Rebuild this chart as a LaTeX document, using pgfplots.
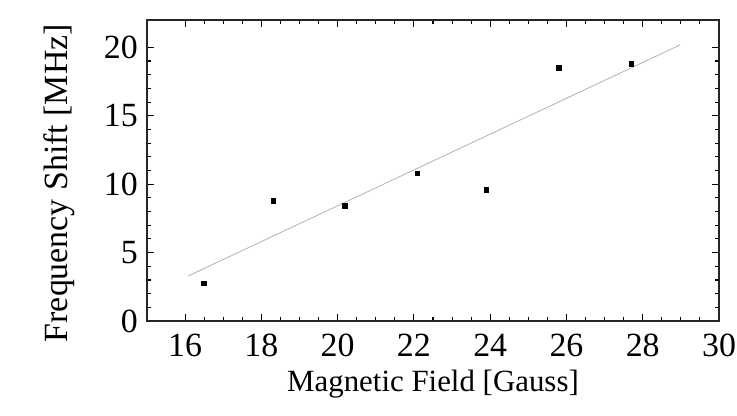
\documentclass[border=0pt]{standalone}
\usepackage{fontspec}
\setmainfont{Liberation Serif}
\usepackage{pgfplots}
\pgfplotsset{compat=1.18}
\begin{document}
\begin{tikzpicture}
\begin{axis}[
 scale only axis, width=572bp, height=301bp,
 xmin=15, xmax=30, ymin=0, ymax=22,
 xtick={16,18,...,30}, ytick={0,5,...,20},
 minor x tick num=3, minor y tick num=4,
 tick align=inside, major tick length=7bp, minor tick length=4bp,
 axis line style={line width=1.8bp, black!85},
 every tick/.style={black, line width=1.1bp},
 tick label style={font=\fontsize{34}{40}\selectfont, inner sep=0pt},
 xticklabel style={anchor=north, yshift=-13bp},
 yticklabel style={anchor=east, xshift=-9bp},
 /pgf/number format/assume math mode=true,
 xlabel={Magnetic Field [Gauss]}, ylabel={Frequency Shift [MHz]},
 xlabel style={font=\fontsize{31}{37}\selectfont, inner sep=0pt, at={(axis description cs:0.5,-0.209)}, anchor=center},
 ylabel style={font=\fontsize{34}{40}\selectfont, inner sep=0pt, at={(axis description cs:-0.1538,0.458)}, anchor=center},
 clip=false,
]
\addplot[gray!55, line width=0.9bp] coordinates {(16.08,3.29) (28.98,20.18)};
\addplot[only marks, mark=square*, mark size=2.3bp, black] coordinates {
 (16.48,2.76) (18.31,8.79) (20.19,8.41) (22.09,10.80) (23.89,9.58) (25.80,18.52) (27.70,18.79)};
\end{axis}
\pgfresetboundingbox
\path[use as bounding box] ([shift={(-147bp,-95bp)}]current axis.south west) rectangle ++(737bp,416bp);
\end{tikzpicture}
\end{document}
